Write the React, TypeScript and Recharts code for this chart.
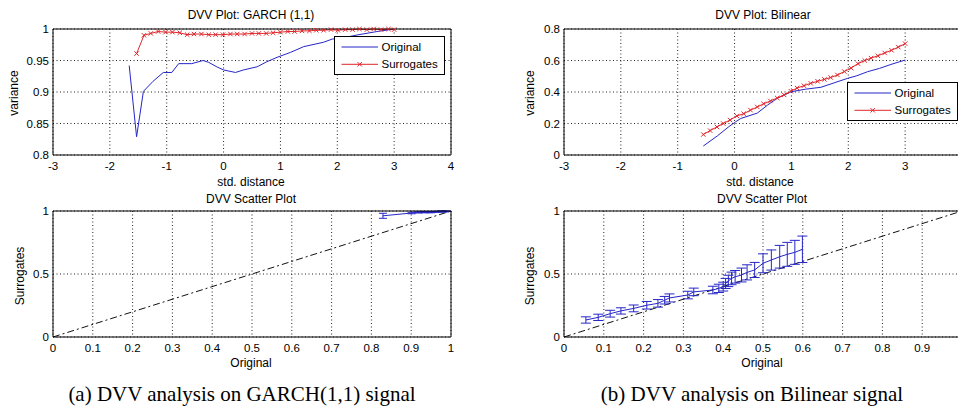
import React from "react";
import { LineChart, Line, XAxis, YAxis, CartesianGrid, ErrorBar, Legend } from "recharts";

const FONT = '"Liberation Sans", Arial, Helvetica, sans-serif';
const SERIF = '"Liberation Serif", "Times New Roman", serif';
const BLUE = "#2626c8";
const RED = "#e0262b";

// (a) GARCH(1,1): DVV plot, std. distance vs variance
const garchOrigDist = [-1.66, -1.53, -1.41, -1.24, -1.06, -0.91, -0.79, -0.56, -0.36, -0.26, -0.12, 0.0, 0.21, 0.35, 0.59, 0.76, 0.94, 1.18, 1.41, 1.76, 1.91, 2.1, 2.38, 2.7, 3.0];
const garchOrigVar = [0.942, 0.829, 0.901, 0.917, 0.931, 0.931, 0.945, 0.945, 0.95, 0.947, 0.94, 0.935, 0.931, 0.935, 0.94, 0.948, 0.955, 0.963, 0.972, 0.979, 0.984, 0.986, 0.991, 0.996, 1.0];
const garchSurrDist = [-1.53, -1.4, -1.28, -1.15, -1.02, -0.9, -0.77, -0.64, -0.52, -0.39, -0.26, -0.14, -0.01, 0.12, 0.24, 0.37, 0.5, 0.62, 0.75, 0.87, 1.0, 1.13, 1.25, 1.38, 1.51, 1.63, 1.76, 1.89, 2.01, 2.14, 2.27, 2.39, 2.52, 2.64, 2.77, 2.9, 3.0];
const garchSurrVar = [0.961, 0.99, 0.993, 0.996, 0.995, 0.995, 0.994, 0.991, 0.992, 0.992, 0.991, 0.991, 0.991, 0.992, 0.992, 0.992, 0.993, 0.993, 0.993, 0.994, 0.995, 0.996, 0.996, 0.997, 0.997, 0.998, 0.998, 0.999, 0.998, 0.999, 0.999, 1.0, 0.999, 1.0, 0.999, 1.0, 0.999];

// (a) GARCH(1,1): DVV scatter plot
const garchScatOrig = [0.829, 0.901, 0.918, 0.931, 0.945, 0.95, 0.935, 0.931, 0.94, 0.955, 0.963, 0.972, 0.979, 0.984, 0.991, 0.975];
const garchScatSurr = [0.962, 0.984, 0.989, 0.992, 0.991, 0.99, 0.99, 0.991, 0.992, 0.993, 0.994, 0.995, 0.996, 0.996, 0.997, 0.997];
const garchScatErr = [0.02, 0.006, 0.005, 0.004, 0.004, 0.004, 0.004, 0.004, 0.004, 0.003, 0.003, 0.003, 0.003, 0.003, 0.002, 0.002];

// (b) Bilinear: DVV plot
const bilOrigDist = [-0.55, -0.3, -0.1, 0.02, 0.11, 0.4, 0.58, 0.75, 0.9, 1.0, 1.25, 1.52, 1.75, 1.99, 2.15, 2.34, 2.55, 2.75, 3.0];
const bilOrigVar = [0.057, 0.122, 0.18, 0.211, 0.232, 0.266, 0.317, 0.36, 0.385, 0.402, 0.418, 0.43, 0.458, 0.487, 0.503, 0.529, 0.55, 0.575, 0.603];
const bilSurrDist = [-0.55, -0.43, -0.31, -0.2, -0.08, 0.04, 0.16, 0.28, 0.4, 0.51, 0.63, 0.75, 0.87, 0.99, 1.1, 1.22, 1.34, 1.46, 1.58, 1.69, 1.81, 1.93, 2.05, 2.17, 2.29, 2.4, 2.52, 2.64, 2.76, 2.88, 3.0];
const bilSurrVar = [0.13, 0.155, 0.178, 0.2, 0.222, 0.248, 0.262, 0.285, 0.305, 0.325, 0.343, 0.362, 0.382, 0.405, 0.425, 0.44, 0.455, 0.468, 0.48, 0.492, 0.508, 0.53, 0.552, 0.58, 0.6, 0.615, 0.63, 0.648, 0.665, 0.685, 0.707];

// (b) Bilinear: DVV scatter plot
const bilScatOrig = [0.055, 0.086, 0.116, 0.143, 0.175, 0.208, 0.236, 0.253, 0.265, 0.311, 0.326, 0.374, 0.389, 0.4, 0.406, 0.413, 0.421, 0.43, 0.446, 0.46, 0.479, 0.5, 0.521, 0.542, 0.561, 0.58, 0.599];
const bilScatSurr = [0.135, 0.156, 0.185, 0.207, 0.227, 0.252, 0.267, 0.292, 0.31, 0.333, 0.358, 0.373, 0.386, 0.4, 0.425, 0.445, 0.465, 0.478, 0.492, 0.513, 0.532, 0.585, 0.611, 0.637, 0.656, 0.672, 0.696];
const bilScatErr = [0.025, 0.025, 0.027, 0.025, 0.027, 0.03, 0.03, 0.03, 0.032, 0.03, 0.03, 0.03, 0.033, 0.035, 0.04, 0.045, 0.05, 0.05, 0.055, 0.06, 0.06, 0.075, 0.08, 0.09, 0.095, 0.095, 0.105];

const diagX = [0, 1];
const diagY = [0, 1];

const distTicks = [-3, -2, -1, 0, 1, 2, 3, 4];
// right-hand panels run past the page edge, so their last tick label is not shown
const distTicksRight = [-3, -2, -1, 0, 1, 2, 3];
const garchVarTicks = [0.8, 0.85, 0.9, 0.95, 1];
const bilVarTicks = [0, 0.2, 0.4, 0.6, 0.8];
const scatXTicks = [0, 0.1, 0.2, 0.3, 0.4, 0.5, 0.6, 0.7, 0.8, 0.9, 1];
const scatXTicksRight = [0, 0.1, 0.2, 0.3, 0.4, 0.5, 0.6, 0.7, 0.8, 0.9];
const scatYTicks = [0, 0.5, 1];

const pts = (xs: number[], ys: number[], es?: number[]) =>
  xs.map((x, i) => (es ? { x, y: ys[i], e: es[i] } : { x, y: ys[i] }));

const XMark = (props: any) => {
  const { cx, cy, index } = props;
  if (cx == null || cy == null) return null;
  const s = 2.2;
  return (
    <path
      key={`xm-${index}`}
      d={`M${cx - s},${cy - s}L${cx + s},${cy + s}M${cx - s},${cy + s}L${cx + s},${cy - s}`}
      stroke={RED}
      strokeWidth={1}
      fill="none"
    />
  );
};

const renderLegend = (props: any) => {
  const items = props.payload || [];
  return (
    <svg width={111} height={39} style={{ display: "block" }}>
      <rect x={0.5} y={0.5} width={110} height={38} fill="#fff" stroke="#000" />
      {items.map((it: any, i: number) => {
        const y = 11 + i * 17.3;
        return (
          <g key={i}>
            <line x1={7.5} x2={44} y1={y} y2={y} stroke={it.color} />
            {it.value === "Surrogates" && XMark({ cx: 25.7, cy: y, index: i })}
            <text x={47.5} y={y} dy="0.35em" fontSize={11.5} fontFamily={FONT} fill="#000">
              {it.value}
            </text>
          </g>
        );
      })}
    </svg>
  );
};

type PanelProps = {
  left: number;
  top: number;
  xDomain: [number, number];
  xTicks: number[];
  yDomain: [number, number];
  yTicks: number[];
  children: React.ReactNode;
};

const tickStyle = { fill: "#000", fontSize: 11.5, fontFamily: FONT };

function Panel({ left, top, xDomain, xTicks, yDomain, yTicks, children }: PanelProps) {
  return (
    <div style={{ position: "absolute", left, top }}>
      <LineChart width={470} height={200} margin={{ top: 28, right: 18, bottom: 25, left: 8 }}>
        <CartesianGrid stroke="#222" strokeDasharray="1 2.5" />
        <XAxis
          type="number"
          dataKey="x"
          domain={xDomain}
          ticks={xTicks}
          interval={0}
          height={20}
          tickSize={0}
          tickMargin={7}
          tickLine={false}
          axisLine={{ stroke: "#000" }}
          tick={tickStyle}
        />
        <XAxis
          xAxisId="top"
          orientation="top"
          type="number"
          dataKey="x"
          domain={xDomain}
          height={1}
          tick={false}
          tickLine={false}
          axisLine={{ stroke: "#000" }}
        />
        <YAxis
          type="number"
          domain={yDomain}
          ticks={yTicks}
          interval={0}
          width={45}
          tickSize={0}
          tickMargin={4}
          tickLine={false}
          axisLine={{ stroke: "#000" }}
          tick={tickStyle}
        />
        <YAxis
          yAxisId="r"
          orientation="right"
          type="number"
          domain={yDomain}
          width={1}
          tick={false}
          tickLine={false}
          axisLine={{ stroke: "#000" }}
        />
        {children}
      </LineChart>
    </div>
  );
}

function Txt({ x, y, size = 12, rotate = false, serif = false, children }: any) {
  return (
    <div
      style={{
        position: "absolute",
        left: x,
        top: y,
        transform: `translate(-50%, -50%)${rotate ? " rotate(-90deg)" : ""}`,
        fontFamily: serif ? SERIF : FONT,
        fontSize: size,
        lineHeight: 1,
        whiteSpace: "nowrap",
        color: "#000",
      }}
    >
      {children}
    </div>
  );
}

const legendProps = {
  layout: "vertical" as const,
  align: "center" as const,
  verticalAlign: "middle" as const,
  content: renderLegend,
};

export default function App() {
  return (
    <div
      style={{
        position: "absolute",
        left: 0,
        top: 0,
        width: 958,
        height: 416,
        overflow: "hidden",
        background: "#fff",
      }}
    >
      <Panel left={0} top={0} xDomain={[-3, 4]} xTicks={distTicks} yDomain={[0.8, 1]} yTicks={garchVarTicks}>
        <Line data={pts(garchOrigDist, garchOrigVar)} dataKey="y" name="Original" stroke={BLUE} dot={false} activeDot={false} isAnimationActive={false} />
        <Line data={pts(garchSurrDist, garchSurrVar)} dataKey="y" name="Surrogates" stroke={RED} dot={XMark} activeDot={false} isAnimationActive={false} />
        <Legend {...legendProps} wrapperStyle={{ left: 334, top: 36, width: 111, height: 39 }} />
      </Panel>

      <Panel left={511} top={0} xDomain={[-3, 4]} xTicks={distTicksRight} yDomain={[0, 0.8]} yTicks={bilVarTicks}>
        <Line data={pts(bilOrigDist, bilOrigVar)} dataKey="y" name="Original" stroke={BLUE} dot={false} activeDot={false} isAnimationActive={false} />
        <Line data={pts(bilSurrDist, bilSurrVar)} dataKey="y" name="Surrogates" stroke={RED} dot={XMark} activeDot={false} isAnimationActive={false} />
        <Legend {...legendProps} wrapperStyle={{ left: 336, top: 82, width: 111, height: 39 }} />
      </Panel>

      <Panel left={0} top={182} xDomain={[0, 1]} xTicks={scatXTicks} yDomain={[0, 1]} yTicks={scatYTicks}>
        <Line data={pts(diagX, diagY)} dataKey="y" stroke="#111" strokeDasharray="7 3 2 3" dot={false} activeDot={false} isAnimationActive={false} />
        <Line data={pts(garchScatOrig, garchScatSurr, garchScatErr)} dataKey="y" stroke={BLUE} dot={false} activeDot={false} isAnimationActive={false}>
          <ErrorBar dataKey="e" direction="y" width={4} stroke={BLUE} strokeWidth={1} />
        </Line>
      </Panel>

      <Panel left={511} top={182} xDomain={[0, 1]} xTicks={scatXTicksRight} yDomain={[0, 1]} yTicks={scatYTicks}>
        <Line data={pts(diagX, diagY)} dataKey="y" stroke="#111" strokeDasharray="7 3 2 3" dot={false} activeDot={false} isAnimationActive={false} />
        <Line data={pts(bilScatOrig, bilScatSurr, bilScatErr)} dataKey="y" stroke={BLUE} dot={false} activeDot={false} isAnimationActive={false}>
          <ErrorBar dataKey="e" direction="y" width={5} stroke={BLUE} strokeWidth={1} />
        </Line>
      </Panel>

      <Txt x={251} y={15}>DVV Plot: GARCH (1,1)</Txt>
      <Txt x={763} y={15}>DVV Plot: Bilinear</Txt>
      <Txt x={14} y={93} rotate>variance</Txt>
      <Txt x={530} y={93} rotate>variance</Txt>
      <Txt x={251} y={182}>std. distance</Txt>
      <Txt x={760} y={182}>std. distance</Txt>
      <Txt x={251} y={198.5}>DVV Scatter Plot</Txt>
      <Txt x={762} y={198.5}>DVV Scatter Plot</Txt>
      <Txt x={20} y={276} rotate>Surrogates</Txt>
      <Txt x={530} y={276} rotate>Surrogates</Txt>
      <Txt x={251} y={363}>Original</Txt>
      <Txt x={762} y={363}>Original</Txt>
      <Txt x={242} y={394} size={21} serif>(a) DVV analysis on GARCH(1,1) signal</Txt>
      <Txt x={752} y={394} size={21} serif>(b) DVV analysis on Bilinear signal</Txt>
    </div>
  );
}
